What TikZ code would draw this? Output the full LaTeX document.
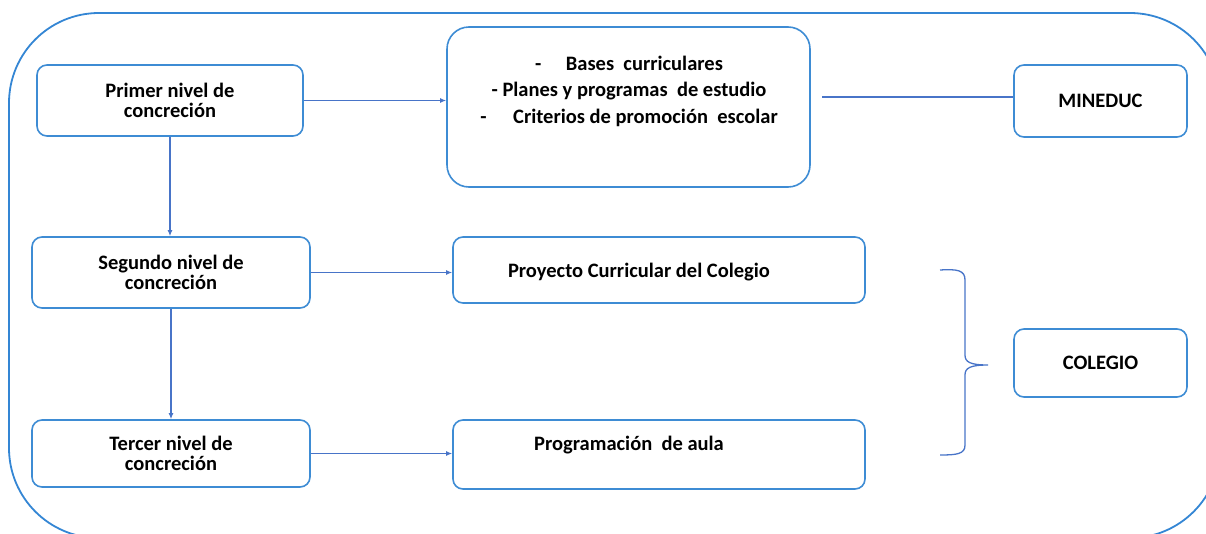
\documentclass[tikz,border=0pt]{standalone}
\usepackage{fontspec}
\setmainfont{Carlito}
\usetikzlibrary{arrows.meta}
\definecolor{framebl}{RGB}{52,134,212}
\definecolor{boxbl}{RGB}{62,140,212}
\definecolor{linebl}{RGB}{72,116,200}
\tikzset{
  nivel/.style={draw=boxbl, line width=1.6pt, rounded corners=10pt, align=center,
    font=\bfseries\fontsize{20.5}{20}\selectfont},
  txt/.style={align=center, font=\bfseries\fontsize{20.5}{26.5}\selectfont},
  conn/.style={draw=linebl, line width=1.3pt},
  >={Latex[length=6pt,width=5pt]}
}

\begin{document}
\begin{tikzpicture}[x=1pt, y=-1pt]
        \clip (0,0) rectangle (1206,533);
        \draw[framebl, line width=1.8pt, rounded corners=90pt] (9,13) rectangle (1220,538);

        \node[nivel, minimum width=266pt, minimum height=71pt] at (170, 100.5)  (primer)  {Primer nivel de\\concreción};
        \node[nivel, minimum width=278pt, minimum height=71pt] at (171, 272.5)  (segundo) {Segundo nivel de\\concreción};
        \node[nivel, minimum width=278pt, minimum height=67pt] at (171, 453.5)  (tercer)  {Tercer nivel de\\concreción};
        \node[nivel, minimum width=363pt, minimum height=160pt, rounded corners=22pt] at (628.5, 107) (bases) {};
        \node[nivel, minimum width=412pt, minimum height=66pt] at (659, 270)    (proyecto) {};
        \node[nivel, minimum width=412pt, minimum height=69pt] at (659, 454.5)  (aula)    {};
        \node[nivel, minimum width=173pt, minimum height=72pt] at (1100.5, 101) (mineduc) {MINEDUC};
        \node[nivel, minimum width=173pt, minimum height=68pt] at (1100.5, 363) (colegio) {COLEGIO};

        \node[txt] at (629, 91)  (basestxt) {-\hspace{1.2em}Bases\ \ curriculares\\- Planes y programas\ \ de estudio\\-\hspace{1.3em}Criterios de promoción\ \ escolar};
        \node[txt] at (639, 272) (proyectotxt) {Proyecto Curricular del Colegio};
        \node[txt] at (629, 445) (aulatxt) {Programación\ \ de aula};

        \coordinate (minline) at (822, 97);

        \draw[conn, ->] (primer.east) -- (primer.east -| bases.west);
        \draw[conn, ->] (segundo.east) -- (segundo.east -| proyecto.west);
        \draw[conn, ->] (tercer.east) -- (tercer.east -| aula.west);
        \draw[conn, ->] (primer.south) -- (primer.south |- segundo.north);
        \draw[conn, ->] (segundo.south) -- (tercer.north);
        \draw[conn] (minline) -- (minline -| mineduc.west);

        % llave del colegio
        \draw[conn] (940,270) .. controls (957,269) and (965,270) .. (965,280) -- (965,355)
            .. controls (965,362) and (970,365) .. (988,365)
            .. controls (970,365) and (965,368) .. (965,375) -- (965,445)
            .. controls (965,454) and (957,455) .. (940,455);
\end{tikzpicture}
\end{document}
